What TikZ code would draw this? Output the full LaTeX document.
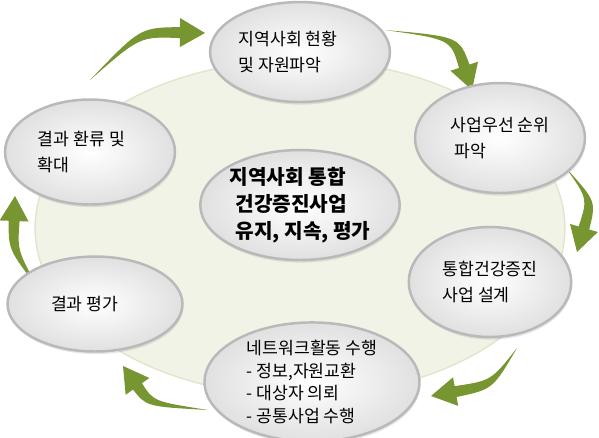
\documentclass[tikz,border=0pt]{standalone}
\usepackage{fontspec}
\usepackage{tikz}
\usetikzlibrary{shapes.geometric,shadows,calc}
\newfontfamily\kr{Noto Sans CJK KR}
\definecolor{verde}{HTML}{779530}
\definecolor{fundo}{HTML}{F1F3E6}
\definecolor{borda}{HTML}{E0E5CC}
\tikzstyle{etapa}=[ellipse, draw=gray!55, line width=1.4pt, inner color=white, outer color=gray!24, drop shadow={opacity=0.2, shadow xshift=0.5pt, shadow yshift=-1.5pt}, inner sep=0pt, align=left, font=\kr\fontsize{9.8}{14.6}\selectfont]
\newcommand{\seta}[3]{%
	\coordinate (hb) at ($(#3)!0.5cm!(#2)$);
	\coordinate (b1) at ($(hb)!0.11cm!90:(#3)$);
	\coordinate (b2) at ($(hb)!0.11cm!-90:(#3)$);
	\coordinate (c1) at ($(#2)+0.8*(b1)-0.8*(hb)$);
	\coordinate (c2) at ($(#2)+0.8*(b2)-0.8*(hb)$);
	\fill[verde] (#1) .. controls (c1) .. (b1) -- ($(hb)!0.29cm!90:(#3)$) -- (#3) -- ($(hb)!0.29cm!-90:(#3)$) -- (b2) .. controls (c2) .. (#1) -- cycle;}

\begin{document}
\begin{tikzpicture}[x=0.02cm, y=-0.02cm]
	\useasboundingbox (0,0) rectangle (599,437);
	\fill[fundo, draw=borda, line width=0.8pt] (300,228) ellipse [x radius=5.3cm, y radius=3.36cm];
	\coordinate (a1s) at (90,80);	\coordinate (a1c) at (140,32);	\coordinate (a1t) at (205,33);
	\coordinate (a2s) at (385,30);	\coordinate (a2c) at (455,38);	\coordinate (a2t) at (472,90);
	\coordinate (a3s) at (566,168);	\coordinate (a3c) at (592,200);	\coordinate (a3t) at (577,252);
	\coordinate (a4s) at (517,348);	\coordinate (a4c) at (492,385);	\coordinate (a4t) at (431,396);
	\coordinate (a5s) at (208,410);	\coordinate (a5c) at (150,404);	\coordinate (a5t) at (123,366);
	\coordinate (a6s) at (38,288);	\coordinate (a6c) at (13,250);	\coordinate (a6t) at (15,196);
	\seta{a1s}{a1c}{a1t}
	\seta{a2s}{a2c}{a2t}
	\seta{a3s}{a3c}{a3t}
	\seta{a4s}{a4c}{a4t}
	\seta{a5s}{a5c}{a5t}
	\seta{a6s}{a6c}{a6t}
	\node[etapa, minimum width=3.6cm, minimum height=2cm] (e1) at (300,52) {지역사회 현황\hspace*{1.4em}\\및 자원파악};
	\node[etapa, minimum width=3.4cm, minimum height=2.2cm] (e2) at (500,138) {사업우선 순위\\\ 파악};
	\node[etapa, minimum width=3.25cm, minimum height=2.2cm] (e3) at (490,282) {통합건강증진\\사업 설계};
	\node[etapa, minimum width=4.3cm, minimum height=2.3cm, font=\kr\fontsize{9.8}{13}\selectfont] (e4) at (312,382) {네트워크활동 수행\\- 정보,자원교환\\- 대상자 의뢰\\- 공통사업 수행};
	\node[etapa, minimum width=3.5cm, minimum height=1.9cm] (e5) at (95,304) {결과 평가\hspace*{1.2em}};
	\node[etapa, minimum width=3.4cm, minimum height=2.1cm] (e6) at (90,152) {결과 환류 및\hspace*{1em}\\확대};
	\node[etapa, minimum width=3.8cm, minimum height=2.2cm, font=\kr\bfseries\fontsize{11.5}{15.4}\selectfont] (c) at (300,205) {지역사회 통합\\\hspace{0.3em}건강증진사업\\\hspace{0.3em}유지, 지속, 평가};
\end{tikzpicture}
\end{document}
